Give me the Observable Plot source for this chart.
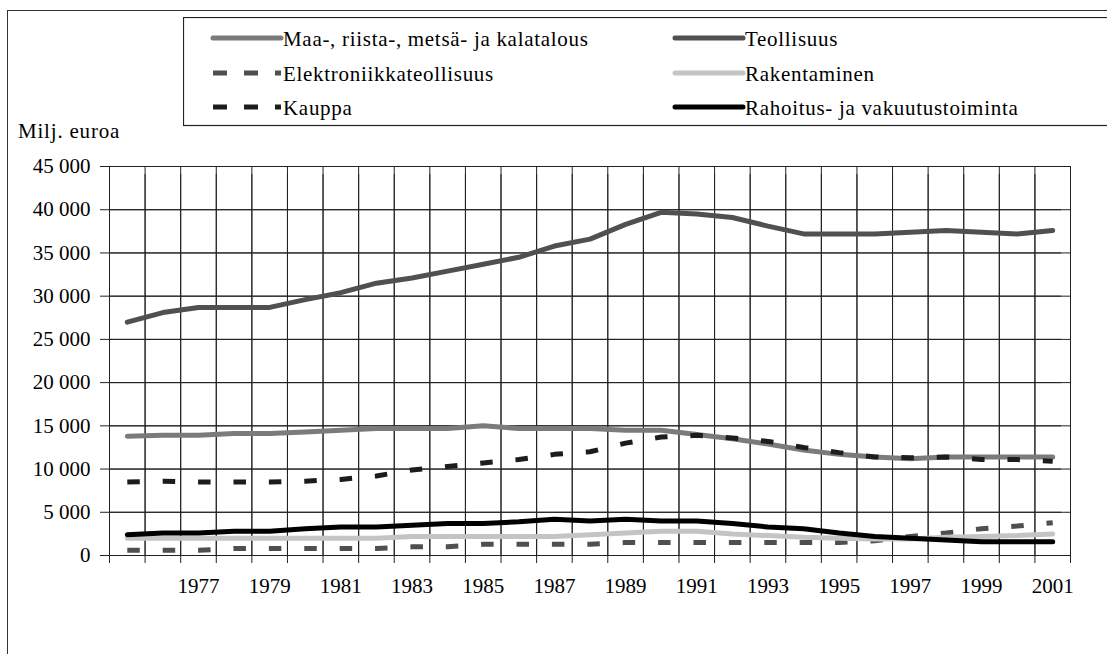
<!DOCTYPE html>
<html>
<head>
<meta charset="utf-8">
<script src="https://cdn.jsdelivr.net/npm/d3@7"></script>
<script src="https://cdn.jsdelivr.net/npm/@observablehq/plot@0.6"></script>
<style>
  body { margin: 0; background: #fff; overflow: hidden; }
  #wrap { position: relative; width: 1107px; height: 654px; overflow: hidden; font-family: "Liberation Serif", serif; }
  #outer { position: absolute; left: 7px; top: 10px; width: 1200px; height: 800px; border-left: 1.5px solid #333; border-top: 1.5px solid #333; box-sizing: border-box; }
  #chart { position: absolute; left: 0; top: 0; }
  #unit { position: absolute; left: 18px; top: 119px; font-size: 21px; letter-spacing: 0.8px; color: #000; line-height: 24px; font-family: "Liberation Serif", serif; }
  #legend { position: absolute; left: 183px; top: 17px; }
</style>
</head>
<body>
<div id="wrap">
  <div id="outer"></div>
  <div id="chart"></div>
  <div id="unit">Milj. euroa</div>
  <svg id="legend" width="940" height="110"></svg>
</div>
<script>
// ---- Data ----
const years = [1975,1976,1977,1978,1979,1980,1981,1982,1983,1984,1985,1986,1987,1988,1989,1990,1991,1992,1993,1994,1995,1996,1997,1998,1999,2000,2001];
const labelYears = [1977,1979,1981,1983,1985,1987,1989,1991,1993,1995,1997,1999,2001];
const yTicks = [0,5000,10000,15000,20000,25000,30000,35000,40000,45000];

const seriesNames = [
  "Maa-, riista-, metsä- ja kalatalous",
  "Teollisuus",
  "Elektroniikkateollisuus",
  "Rakentaminen",
  "Kauppa",
  "Rahoitus- ja vakuutustoiminta"
];
const maa = [13800,13900,13900,14100,14100,14300,14500,14700,14700,14700,15000,14700,14700,14700,14500,14500,14000,13500,12900,12200,11700,11400,11200,11400,11400,11400,11400];
const teollisuus = [27000,28100,28700,28700,28700,29600,30400,31500,32100,32900,33700,34500,35800,36600,38300,39700,39500,39100,38100,37200,37200,37200,37400,37600,37400,37200,37600];
const elektroniikka = [600,600,600,800,800,800,800,800,1000,1000,1300,1300,1300,1300,1500,1500,1500,1500,1500,1500,1500,1700,2200,2600,3100,3400,3800];
const rakentaminen = [2000,2000,2000,2000,2000,2000,2000,2000,2200,2200,2200,2200,2200,2400,2600,2800,2800,2500,2300,2100,2000,1900,1900,2100,2200,2300,2500];
const kauppa = [8500,8600,8500,8500,8500,8600,8800,9200,9900,10300,10700,11100,11700,12000,13000,13700,13900,13600,13200,12500,11900,11400,11300,11400,11100,11100,10900];
const rahoitus = [2400,2600,2600,2800,2800,3100,3300,3300,3500,3700,3700,3900,4200,4000,4200,4000,4000,3700,3300,3100,2600,2200,2000,1800,1600,1600,1600];

const seriesValues = [maa, teollisuus, elektroniikka, rakentaminen, kauppa, rahoitus];
const seriesColors = ["#7b7b7b", "#505050", "#4f4f4f", "#c4c4c4", "#1c1c1c", "#000000"];
const seriesDash = [null, null, "12.5,22.9", null, "12.5,22.9", null];
const legendDash = [null, null, "14,17", null, "14,17", null];

// ---- Build table ----
const rows = [];
seriesNames.forEach((name, i) => {
  years.forEach((yr, j) => rows.push({series: name, year: yr, value: seriesValues[i][j]}));
});
const boundaries = years.map(y => y - 0.5).concat([years[years.length - 1] + 0.5]);
const fmt = d => d === 0 ? "0" : d3.format(",")(d).replace(/,/g, " ");
const serif = '"Liberation Serif", serif';

const chart = Plot.plot({
  width: 1107,
  height: 654,
  marginLeft: 109,
  marginRight: 37,
  marginTop: 166,
  marginBottom: 99,
  style: {fontFamily: serif, fontSize: "21px", color: "#000", background: "transparent"},
  x: {domain: [boundaries[0], boundaries[boundaries.length - 1]], axis: null},
  y: {domain: [0, 45000], axis: null},
  marks: [
    Plot.gridX(boundaries, {stroke: "#222", strokeOpacity: 1, strokeWidth: 1}),
    Plot.gridY(yTicks, {stroke: "#222", strokeOpacity: 1, strokeWidth: 1}),
    Plot.tickY(yTicks, {y: d => d, frameAnchor: "left", dx: -9, stroke: "#222"}),
    Plot.tickX(boundaries, {x: d => d, frameAnchor: "bottom", dy: 8, stroke: "#222"}),
    Plot.text(yTicks, {y: d => d, text: fmt, frameAnchor: "left", textAnchor: "end", dx: -19, fontSize: 21, fill: "#000", fontFamily: serif}),
    Plot.text(labelYears, {x: d => d, text: d => String(d), frameAnchor: "bottom", dy: 37, fontSize: 21, fill: "#000", fontFamily: serif}),
    ...seriesNames.map((name, i) => Plot.line(rows.filter(r => r.series === name), {
      x: "year", y: "value",
      stroke: seriesColors[i],
      strokeWidth: 5,
      strokeDasharray: seriesDash[i] || undefined,
      strokeLinecap: seriesDash[i] ? "butt" : "round",
      strokeLinejoin: "round"
    }))
  ]
});
document.getElementById("chart").appendChild(chart);

// ---- Legend ----
const leg = d3.select("#legend");
leg.append("rect").attr("x", 0.5).attr("y", 0.5).attr("width", 1000).attr("height", 108)
  .attr("fill", "#fff").attr("stroke", "#222").attr("stroke-width", 1.2);
const colX = [30, 492];
const rowY = [21, 56, 90];
seriesNames.forEach((name, i) => {
  const cx = colX[i % 2], cy = rowY[Math.floor(i / 2)];
  const g = leg.append("g").attr("transform", `translate(${cx},${cy})`);
  g.append("line").attr("x1", 0).attr("x2", 68).attr("y1", 0).attr("y2", 0)
    .attr("stroke", seriesColors[i]).attr("stroke-width", 5)
    .attr("stroke-linecap", legendDash[i] ? "butt" : "round")
    .attr("stroke-dasharray", legendDash[i]);
  g.append("text").attr("x", 70).attr("y", 8).attr("font-size", 21)
    .attr("font-family", serif).attr("letter-spacing", "0.7px")
    .attr("fill", "#000").text(name);
});
</script>
</body>
</html>
